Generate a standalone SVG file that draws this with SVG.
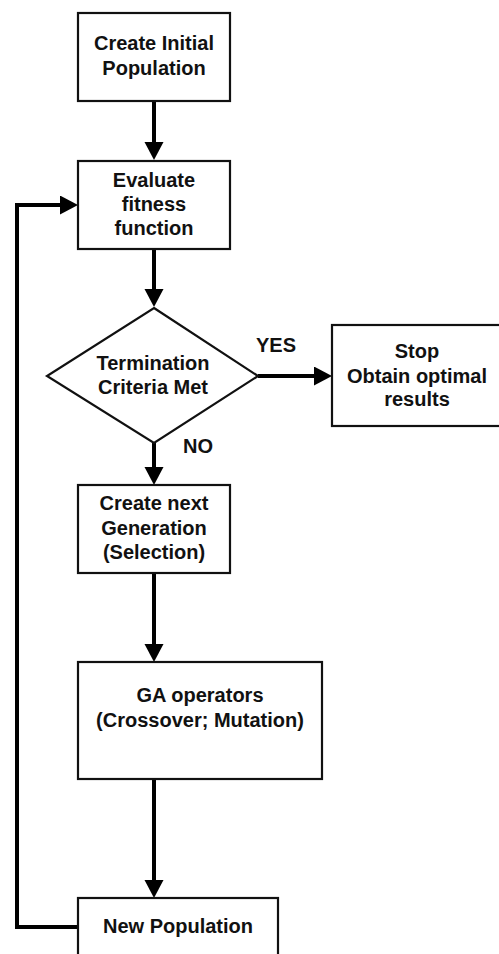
<svg xmlns="http://www.w3.org/2000/svg" width="499" height="954" viewBox="0 0 499 954">
<style>
.box{fill:#fff;stroke:#111;stroke-width:2.2}
.t{font-family:"Liberation Sans",Arial,sans-serif;font-weight:bold;font-size:20px;fill:#111;text-anchor:middle}
.c{fill:none;stroke:#000;stroke-width:4}
</style>
<defs>
<marker id="ah" markerUnits="userSpaceOnUse" markerWidth="20" markerHeight="20" refX="10" refY="9.5" orient="auto">
<path d="M0,0 L18,9.5 L0,19 z" fill="#000"/>
</marker>
</defs>
<rect width="499" height="954" fill="#fff"/>
<g id="connectors">
<path class="c" d="M154,101 V152" marker-end="url(#ah)"/>
<path class="c" d="M154,249 V299" marker-end="url(#ah)"/>
<path class="c" d="M258,376 H324" marker-end="url(#ah)"/>
<path class="c" d="M154,443 V477" marker-end="url(#ah)"/>
<path class="c" d="M154,573 V654" marker-end="url(#ah)"/>
<path class="c" d="M154,779 V890" marker-end="url(#ah)"/>
<path class="c" d="M78,927 H17 V205 H70" marker-end="url(#ah)"/>
<text class="t" x="276" y="352">YES</text>
<text class="t" x="198" y="453">NO</text>
</g>
<g id="n1">
<rect class="box" x="78" y="13" width="152" height="88"/>
<text class="t" x="154" y="50">Create Initial</text>
<text class="t" x="154" y="75">Population</text>
</g>
<g id="n2">
<rect class="box" x="78" y="161" width="152" height="88"/>
<text class="t" x="154" y="187">Evaluate</text>
<text class="t" x="154" y="211">fitness</text>
<text class="t" x="154" y="235">function</text>
</g>
<g id="n3">
<polygon class="box" points="154,308 258,376 154,443 47,376"/>
<text class="t" x="153" y="370">Termination</text>
<text class="t" x="153" y="394">Criteria Met</text>
</g>
<g id="n4">
<rect class="box" x="332" y="325" width="172" height="101"/>
<text class="t" x="417" y="358">Stop</text>
<text class="t" x="417" y="383">Obtain optimal</text>
<text class="t" x="417" y="406">results</text>
</g>
<g id="n5">
<rect class="box" x="78" y="485" width="152" height="88"/>
<text class="t" x="154" y="510">Create next</text>
<text class="t" x="154" y="535">Generation</text>
<text class="t" x="154" y="559">(Selection)</text>
</g>
<g id="n6">
<rect class="box" x="78" y="662" width="244" height="117"/>
<text class="t" x="200" y="702">GA operators</text>
<text class="t" x="200" y="727">(Crossover; Mutation)</text>
</g>
<g id="n7">
<rect class="box" x="78" y="898" width="200" height="70"/>
<text class="t" x="178" y="933">New Population</text>
</g>
</svg>
